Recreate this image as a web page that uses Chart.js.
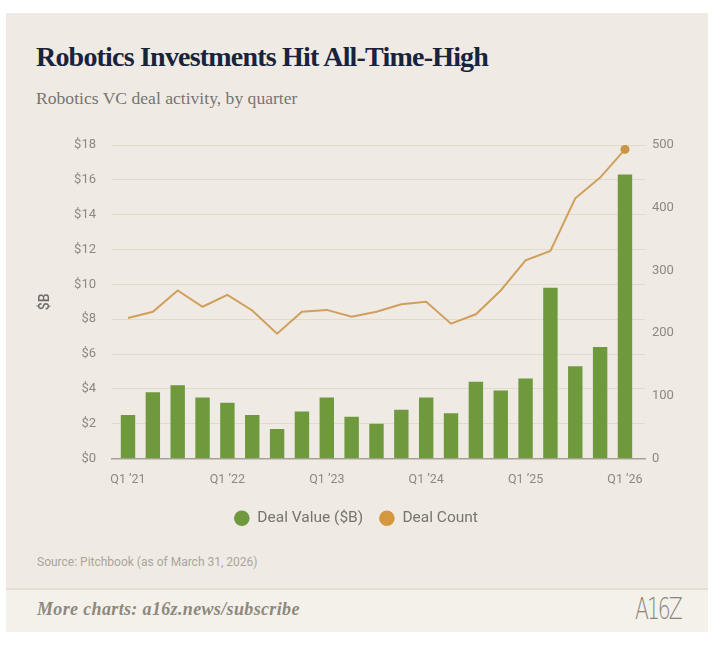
<!DOCTYPE html>
<html>
<head>
<meta charset="utf-8">
<script src="https://cdn.jsdelivr.net/npm/chart.js@4.4.1/dist/chart.umd.min.js"></script>
<style>
  html, body { margin: 0; padding: 0; background: #ffffff; width: 727px; height: 649px; overflow: hidden; }
  #card { position: absolute; left: 6px; top: 13px; width: 702px; height: 617px; background: #efebe4; }
  #title { position: absolute; left: 30px; top: 28px; font-family: "Liberation Serif", serif; font-weight: bold; font-size: 28px; color: #18233d; white-space: nowrap; letter-spacing: -0.8px; }
  #subtitle { position: absolute; left: 30px; top: 75px; font-family: "Liberation Serif", serif; font-size: 17.6px; color: #77746f; white-space: nowrap; }
  #chartbox { position: absolute; left: -4px; top: 112px; width: 708px; height: 415px; }
  #source { position: absolute; left: 31px; top: 542px; font-family: "Roboto", sans-serif; font-size: 12px; color: #aaa59c; white-space: nowrap; }
  #footer { position: absolute; left: 0; top: 575px; width: 702px; height: 42px; background: #f4f1ea; border-top: 2px solid #e4ddd0; }
  #more { position: absolute; left: 31px; top: 9px; font-family: "Liberation Serif", serif; font-style: italic; font-weight: bold; font-size: 18px; letter-spacing: 0.35px; color: #8e887e; white-space: nowrap; }
  #logo { position: absolute; left: 629px; top: 1px; font-family: "DejaVu Sans", sans-serif; font-weight: 300; font-size: 30px; color: #8a8479; letter-spacing: -3px; transform: scaleX(0.68); transform-origin: left center; }
</style>
</head>
<body>
<div id="card">
  <div id="title">Robotics Investments Hit All-Time-High</div>
  <div id="subtitle">Robotics VC deal activity, by quarter</div>
  <div id="chartbox"><canvas id="c" width="708" height="415"></canvas></div>
  <div id="source">Source: Pitchbook (as of March 31, 2026)</div>
  <div id="footer">
    <div id="more">More charts: a16z.news/subscribe</div>
    <div id="logo">A16Z</div>
  </div>
</div>
<script>
const quarters = [
  "Q1 ’21","Q2 ’21","Q3 ’21","Q4 ’21",
  "Q1 ’22","Q2 ’22","Q3 ’22","Q4 ’22",
  "Q1 ’23","Q2 ’23","Q3 ’23","Q4 ’23",
  "Q1 ’24","Q2 ’24","Q3 ’24","Q4 ’24",
  "Q1 ’25","Q2 ’25","Q3 ’25","Q4 ’25",
  "Q1 ’26"
];
const dealValue = [2.5, 3.8, 4.2, 3.5, 3.2, 2.5, 1.7, 2.7, 3.5, 2.4, 2.0, 2.8, 3.5, 2.6, 4.4, 3.9, 4.6, 9.8, 5.3, 6.4, 16.3];
const dealCount = [224, 234, 268, 242, 261, 236, 199, 234, 237, 226, 234, 246, 250, 215, 230, 268, 316, 331, 415, 448, 493];
const leftTicksMax = 18;
const rightTicksMax = 500;

const green = "#6e9a3d";
const gold = "#d09f5c";
const goldDot = "#cc9445";
const tickColor = "#8d8882";

const pointRadii = dealCount.map((v, i) => i === dealCount.length - 1 ? 4.5 : 0);

new Chart(document.getElementById("c"), {
  data: {
    labels: quarters,
    datasets: [
      {
        type: "bar",
        label: "Deal Value ($B)",
        data: dealValue,
        backgroundColor: green,
        yAxisID: "y",
        order: 2,
        barPercentage: 0.58,
        categoryPercentage: 1.0
      },
      {
        type: "line",
        label: "Deal Count",
        data: dealCount,
        borderColor: gold,
        backgroundColor: goldDot,
        borderWidth: 2,
        pointRadius: pointRadii,
        pointBackgroundColor: goldDot,
        pointBorderWidth: 0,
        tension: 0,
        yAxisID: "y1",
        order: 1
      }
    ]
  },
  options: {
    responsive: false,
    animation: false,
    layout: { padding: { top: 20, left: 0, right: 0, bottom: 4 } },
    plugins: {
      tooltip: { enabled: false },
      legend: {
        position: "bottom",
        labels: {
          usePointStyle: true,
          pointStyle: "circle",
          boxHeight: 11,
          padding: 16,
          color: "#77736d",
          font: { family: "Roboto", size: 15.5 },
          generateLabels: (chart) => chart.data.datasets.map((ds, i) => ({
            text: ds.label,
            fillStyle: i === 0 ? green : "#d4973f",
            strokeStyle: i === 0 ? green : "#d4973f",
            lineWidth: 0,
            pointStyle: "circle",
            datasetIndex: i,
            fontColor: "#77736d"
          }))
        }
      }
    },
    scales: {
      x: {
        grid: { display: false, drawTicks: false },
        border: { display: true, color: "#a7a094", width: 1.5 },
        ticks: {
          autoSkip: false,
          maxRotation: 0,
          padding: 14,
          color: tickColor,
          font: { family: "Roboto", size: 12.5 },
          callback: function (val, idx) { return idx % 4 === 0 ? quarters[idx] : ""; }
        },
        afterBuildTicks: (s) => {
          // small inset of the category band inside the plot, as in the original
          s._startValue = -0.644;
          s._valueRange = 21.45;
        },
        afterFit: (s) => { s.height = 36; }
      },
      y: {
        position: "left",
        min: 0,
        max: leftTicksMax,
        grid: { color: "#e2dbca", lineWidth: 1, drawTicks: false },
        border: { display: false },
        ticks: {
          stepSize: 2,
          padding: 16,
          color: tickColor,
          font: { family: "Roboto", size: 13 },
          callback: (v) => "$" + v
        },
        title: {
          display: true,
          text: "$B",
          color: "#6f6b66",
          font: { family: "Roboto", size: 14, weight: "500" },
          padding: { top: 35, bottom: 0 }
        },
        afterFit: (s) => { s.width = 110; s.paddingTop = 8; }
      },
      y1: {
        position: "right",
        min: 0,
        max: rightTicksMax,
        grid: { display: false, drawTicks: false },
        border: { display: false },
        ticks: {
          stepSize: 100,
          padding: 7,
          color: tickColor,
          font: { family: "Roboto", size: 13 }
        },
        afterFit: (s) => { s.width = 65; s.paddingTop = 8; }
      }
    }
  }
});
</script>
</body>
</html>
